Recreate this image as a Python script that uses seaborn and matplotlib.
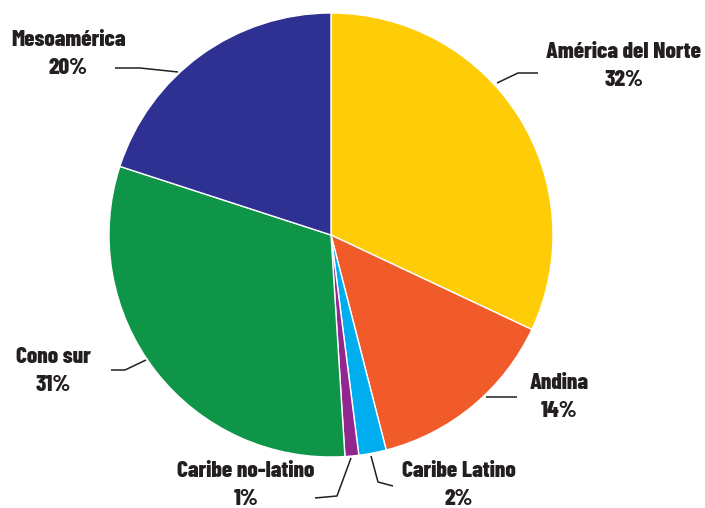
import matplotlib
matplotlib.use("Agg")
import matplotlib.pyplot as plt
import seaborn as sns

sns.set_theme(style="white")
plt.rcParams["font.family"] = ["Barlow Condensed", "DejaVu Sans"]

regions = ["América del Norte", "Andina", "Caribe Latino",
           "Caribe no-latino", "Cono sur", "Mesoamérica"]
shares = [32, 14, 2, 1, 31, 20]
colors = ["#FFCC08", "#F15A29", "#00AEEF", "#92278F", "#0F9547", "#2E3192"]

W, H = 705, 508
fig = plt.figure(figsize=(W / 100, H / 100), dpi=100)
ax = fig.add_axes([0, 0, 1, 1])

cx, cy, r = 331, H - 235, 222
ax.pie(shares, colors=colors, startangle=90, counterclock=False,
       center=(cx, cy), radius=r, frame=True,
       wedgeprops=dict(edgecolor="white", linewidth=1.0))
ax.set_xlim(0, W)
ax.set_ylim(0, H)
ax.set_aspect("equal")
ax.axis("off")

# label placement (pixel coords, y from top) and leader lines
label_pos = {
    "América del Norte": (624, 66),
    "Andina": (559, 397),
    "Caribe Latino": (459, 485),
    "Caribe no-latino": (246, 485),
    "Cono sur": (53, 371),
    "Mesoamérica": (68, 54),
}
leaders = {
    "América del Norte": [(497, 83), (518, 73), (538, 73)],
    "Andina": [(486, 397), (517, 397)],
    "Caribe Latino": [(371, 456), (378, 482), (393, 486)],
    "Caribe no-latino": [(351, 458), (337, 496), (315, 498)],
    "Cono sur": [(146, 360), (125, 370), (111, 370)],
    "Mesoamérica": [(178, 72), (140, 68), (115, 68)],
}

for name, pct in zip(regions, shares):
    x, y = label_pos[name]
    ax.text(x, H - y, f"{name}\n{pct}%", ha="center", va="center",
            fontsize=16.8, fontweight=800, color="#231F20",
            linespacing=1.5)
    pts = leaders[name]
    ax.plot([p[0] for p in pts], [H - p[1] for p in pts],
            color="#231F20", linewidth=1.1, solid_capstyle="butt")

fig.savefig("out.png", dpi=100, facecolor="white")
